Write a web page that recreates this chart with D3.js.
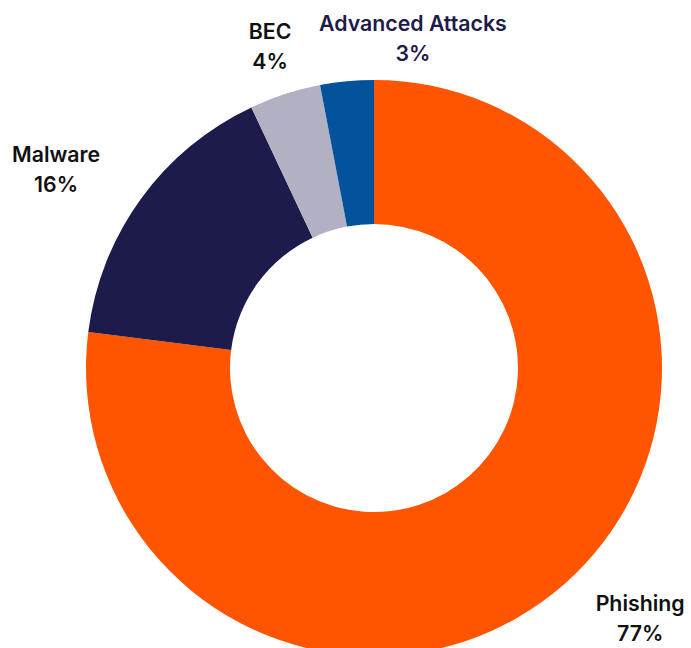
<!DOCTYPE html>
<html lang="en">
<head>
<meta charset="UTF-8">
<title>Threat types</title>
<script src="https://d3js.org/d3.v7.min.js"></script>
<style>
    body { margin: 0; background: #fff; }
    text {
        font-family: Inter, "Open Sans", sans-serif;
        font-weight: 600;
        font-size: 21.3px;
    }
</style>
</head>
<body>
<svg id="chart" width="691" height="648"></svg>
<script>
// slices, clockwise from 12 o'clock
const categories = ["Phishing", "Malware", "BEC", "Advanced Attacks"];
const shares = [77, 16, 4, 3];
const colors = ["#ff5500", "#1d1b4b", "#b2b1c3", "#02539c"];
const labelColors = ["#111111", "#111111", "#111111", "#1d1b4b"];

// label placement: radius and angle nudge (degrees) per slice
const labelRadius = [370.6, 370.9, 330.8, 323.9];
const labelNudge = [-4.5, -5.0, -0.3, 12.3];

const width = 691, height = 648;
const cx = 374, cy = 368;
const outerR = 288, innerR = 144;

const svg = d3.select("#chart");
const g = svg.append("g").attr("transform", `translate(${cx},${cy})`);

const data = categories.map((c, i) => ({ name: c, value: shares[i], i: i }));

const pie = d3.pie().sort(null).value(d => d.value);
const arc = d3.arc().innerRadius(innerR).outerRadius(outerR);
const arcs = pie(data);

g.selectAll("path")
    .data(arcs)
    .enter().append("path")
    .attr("d", arc)
    .attr("fill", d => colors[d.data.i]);

// labels
const lab = g.selectAll("g.lab")
    .data(arcs)
    .enter().append("g")
    .attr("class", "lab")
    .attr("transform", d => {
        const a = (d.startAngle + d.endAngle) / 2 + labelNudge[d.data.i] * Math.PI / 180;
        const r = labelRadius[d.data.i];
        return `translate(${r * Math.sin(a)},${-r * Math.cos(a)})`;
    });

lab.append("text")
    .attr("text-anchor", "middle")
    .attr("y", -15)
    .attr("fill", d => labelColors[d.data.i])
    .text(d => d.data.name);

lab.append("text")
    .attr("text-anchor", "middle")
    .attr("y", 15)
    .attr("fill", d => labelColors[d.data.i])
    .text(d => d.data.value + "%");
</script>
</body>
</html>
